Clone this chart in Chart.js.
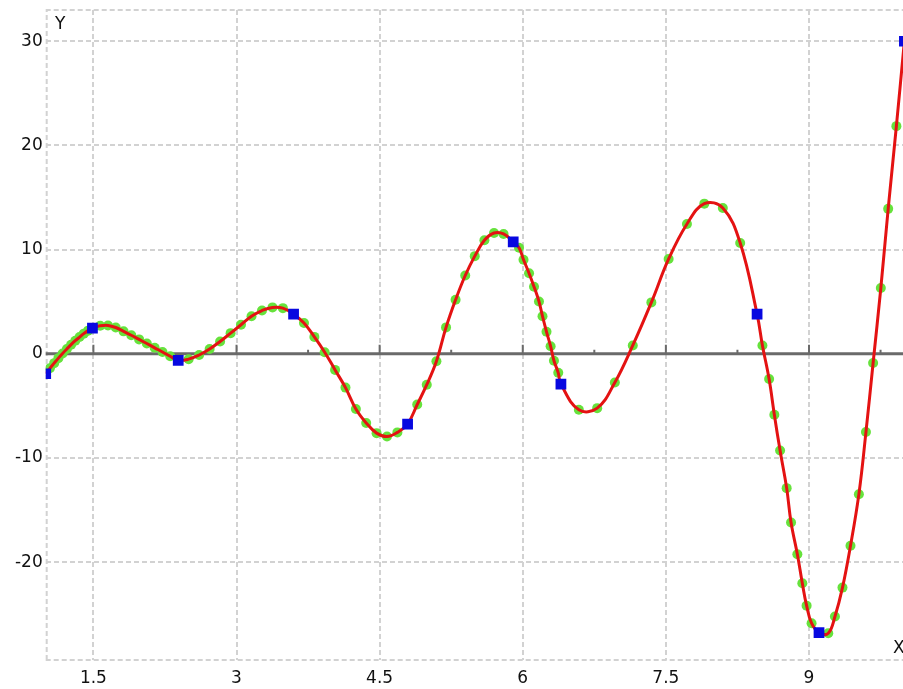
<!DOCTYPE html>
<html><head><meta charset="utf-8">
<script src="https://cdn.jsdelivr.net/npm/chart.js@4.4.1/dist/chart.umd.min.js"></script>
<style>html,body{margin:0;padding:0;overflow:hidden;background:#fff;width:903px;height:689px}canvas{display:block}</style>
</head><body><canvas id="c" width="912" height="689"></canvas>
<script>
// control points (blue squares)
const controlX = [1.0, 1.49, 2.389, 3.598, 4.793, 5.90, 6.40, 8.456, 9.105, 10.0];
const controlY = [-1.92, 2.47, -0.64, 3.8, -6.75, 10.73, -2.91, 3.81, -26.77, 30.0];
// sampled curve points (green dots)
const sampleX = [
  1.044,1.089,1.133,1.177,1.222,1.266,1.310,1.355,1.399,1.444,
  1.571,1.653,1.734,1.816,1.897,1.979,2.060,2.142,2.224,2.305,
  2.498,2.608,2.718,2.828,2.938,3.047,3.157,3.267,3.377,3.486,
  3.707,3.816,3.924,4.033,4.142,4.251,4.359,4.468,4.577,4.686,
  4.894,4.994,5.095,5.196,5.296,5.397,5.497,5.598,5.699,5.799,
  5.961,6.008,6.066,6.118,6.170,6.207,6.249,6.292,6.327,6.372,
  6.588,6.780,6.965,7.153,7.348,7.529,7.721,7.903,8.097,8.279,
  8.512,8.582,8.637,8.697,8.766,8.812,8.878,8.930,8.975,9.027,
  9.202,9.272,9.351,9.435,9.523,9.597,9.672,9.753,9.830,9.916
];
const sampleY = [
  -1.40,-0.90,-0.42,0.03,0.46,0.87,1.25,1.60,1.93,2.22,
  2.68,2.72,2.52,2.15,1.78,1.38,0.98,0.57,0.17,-0.24,
  -0.52,-0.12,0.45,1.18,1.98,2.78,3.60,4.15,4.45,4.38,
  2.95,1.62,0.15,-1.55,-3.25,-5.30,-6.64,-7.62,-7.95,-7.55,
  -4.87,-2.97,-0.72,2.53,5.18,7.51,9.37,10.89,11.59,11.50,
  10.18,9.03,7.73,6.44,5.02,3.60,2.11,0.72,-0.67,-1.83,
  -5.38,-5.22,-2.76,0.80,4.93,9.10,12.46,14.41,14.00,10.63,
  0.80,-2.43,-5.86,-9.29,-12.90,-16.20,-19.24,-22.03,-24.18,-25.87,
  -26.83,-25.23,-22.45,-18.44,-13.48,-7.52,-0.89,6.31,13.91,21.85
];
const xTickValues = [1.5, 3, 4.5, 6, 7.5, 9];
const xTickLabels = ['1.5', '3', '4.5', '6', '7.5', '9'];
const xMinorTicks = [2.25, 3.75, 5.25, 6.75, 8.25, 9.75];
const yTickValues = [-20, -10, 0, 10, 20, 30];
const yTickLabels = ['-20', '-10', '0', '10', '20', '30'];
const xMin = 1, xMax = 10, yMin = -29.4, yMax = 33;

const controlPts = controlX.map((x, i) => ({x, y: controlY[i]}));
const samplePts = sampleX.map((x, i) => ({x, y: sampleY[i]}));
const curvePts = controlPts.concat(samplePts).sort((a, b) => a.x - b.x);

const FONT = 'DejaVu Sans';
const TEXT = '#111111';
const GRID = '#d2d2d2';

const decor = {
  id: 'decor',
  beforeDatasetsDraw(chart) {
    const {ctx, chartArea: a, scales: {x, y}} = chart;
    ctx.save();
    ctx.strokeStyle = GRID; ctx.lineWidth = 2; ctx.setLineDash([5, 3]);
    ctx.beginPath();
    ctx.moveTo(a.left + 1, a.bottom); ctx.lineTo(a.left + 1, a.top);
    ctx.moveTo(a.left, a.top); ctx.lineTo(a.right, a.top);
    ctx.moveTo(a.left, a.bottom); ctx.lineTo(a.right, a.bottom);
    ctx.stroke();
    ctx.setLineDash([]);
    const y0 = y.getPixelForValue(0);
    ctx.strokeStyle = '#6a6a6a'; ctx.lineWidth = 3;
    ctx.beginPath(); ctx.moveTo(a.left, y0); ctx.lineTo(a.right, y0); ctx.stroke();
    ctx.lineWidth = 2;
    xTickValues.forEach(v => {
      const px = x.getPixelForValue(v);
      ctx.beginPath(); ctx.moveTo(px, y0); ctx.lineTo(px, y0 - 9); ctx.stroke();
    });
    xMinorTicks.forEach(v => {
      const px = x.getPixelForValue(v);
      ctx.beginPath(); ctx.moveTo(px, y0); ctx.lineTo(px, y0 - 4); ctx.stroke();
    });
    ctx.restore();
  },
  afterDraw(chart) {
    const {ctx} = chart;
    ctx.save();
    ctx.fillStyle = TEXT; ctx.font = '17px "' + FONT + '"';
    ctx.textAlign = 'left'; ctx.textBaseline = 'middle';
    ctx.fillText('Y', 55, 25);
    ctx.fillText('X', 893, 649);
    ctx.restore();
  }
};

new Chart(document.getElementById('c'), {
  type: 'scatter',
  data: {
    datasets: [
      {
        label: 'control', data: controlPts, order: 0,
        pointStyle: 'rect', pointRadius: 7.6, pointHoverRadius: 7.6,
        backgroundColor: '#0808e0', borderWidth: 0, showLine: false
      },
      {
        label: 'curve', data: curvePts, order: 1,
        showLine: true, borderColor: '#e41212', borderWidth: 3,
        pointRadius: 0, tension: 0.4, fill: false
      },
      {
        label: 'samples', data: samplePts, order: 2,
        pointStyle: 'circle', pointRadius: 5, pointHoverRadius: 5,
        backgroundColor: 'rgb(102,226,60)', borderWidth: 0, showLine: false
      }
    ]
  },
  options: {
    responsive: false,
    animation: false,
    devicePixelRatio: 1,
    layout: {padding: {top: 0, left: 0, right: 5.4, bottom: 0}},
    plugins: {legend: {display: false}, tooltip: {enabled: false}},
    scales: {
      x: {
        type: 'linear', min: xMin, max: xMax,
        afterBuildTicks(s) { s.ticks = xTickValues.map(v => ({value: v})); },
        afterFit(s) { s.height = 29; },
        ticks: {padding: 12, color: TEXT,
          font: {family: FONT, size: 17, lineHeight: '14px'},
          maxRotation: 0, autoSkip: false,
          callback: (v, i) => xTickLabels[i]},
        grid: {color: GRID, lineWidth: 2, drawTicks: false},
        border: {display: false, dash: [5, 3]}
      },
      y: {
        type: 'linear', min: yMin, max: yMax,
        afterBuildTicks(s) { s.ticks = yTickValues.map(v => ({value: v})); },
        afterFit(s) { s.width = 45.7; },
        ticks: {padding: 3, color: TEXT,
          font: {family: FONT, size: 17, lineHeight: '14px'},
          callback: (v, i) => yTickLabels[i]},
        grid: {color: c => (c.tick && c.tick.value === 0) ? 'rgba(0,0,0,0)' : GRID, lineWidth: 2, drawTicks: false},
        border: {display: false, dash: [5, 3]}
      }
    }
  },
  plugins: [decor]
});
</script>
</body></html>
